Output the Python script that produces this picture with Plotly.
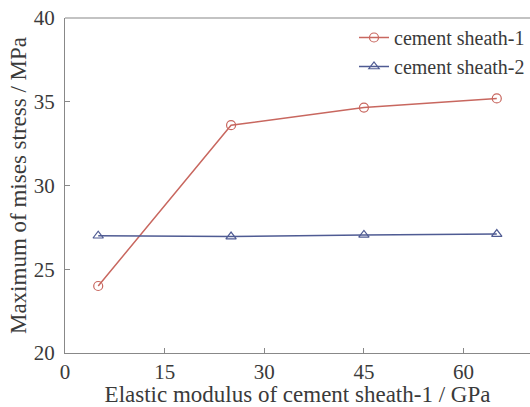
import plotly.graph_objects as go

x_vals = [5, 25, 45, 65]
sheath1 = [24.0, 33.6, 34.65, 35.2]
sheath2 = [27.0, 26.95, 27.05, 27.1]
names = ["cement sheath-1", "cement sheath-2"]

red = "#c8675f"
blue = "#4f5b93"

fig = go.Figure()
fig.add_trace(go.Scatter(x=x_vals, y=sheath1, mode="lines+markers", name=names[0],
                         line=dict(color=red, width=1.5),
                         marker=dict(symbol="circle-open", size=9, color=red, line=dict(width=1.2))))
fig.add_trace(go.Scatter(x=x_vals, y=sheath2, mode="lines+markers", name=names[1],
                         line=dict(color=blue, width=1.5),
                         marker=dict(symbol="triangle-up-open", size=9, color=blue, line=dict(width=1.2))))

font = "Liberation Serif, Times New Roman, serif"
txt = "#3a3a3a"
fig.update_layout(
    width=530, height=407,
    margin=dict(l=65, r=0, t=18, b=54, autoexpand=False),
    paper_bgcolor="white", plot_bgcolor="white",
    font=dict(family=font, color=txt, size=21),
    showlegend=True,
    legend=dict(x=1.0, y=1.0, xanchor="right", yanchor="top",
                font=dict(family=font, size=20, color=txt),
                bgcolor="rgba(0,0,0,0)", tracegroupgap=0),
    xaxis=dict(range=[0, 70], tickvals=[0, 15, 30, 45, 60], ticks="inside", ticklen=5,
               tickcolor="#888888", showline=True, linecolor="#888888", linewidth=1.2,
               showgrid=False, zeroline=False, mirror=False, automargin=False,
               title=dict(text="Elastic modulus of cement sheath-1 / GPa", standoff=0,
                          font=dict(size=23, family=font, color=txt)),
               tickfont=dict(size=21, family=font, color=txt)),
    yaxis=dict(range=[20, 40], tickvals=[20, 25, 30, 35, 40], ticks="inside", ticklen=5,
               tickcolor="#888888", showline=True, linecolor="#888888", linewidth=1.2,
               showgrid=False, zeroline=False, automargin=False, ticklabelstandoff=5,
               title=dict(text="Maximum of mises stress / MPa", standoff=0,
                          font=dict(size=23, family=font, color=txt)),
               tickfont=dict(size=21, family=font, color=txt)),
)
fig.add_shape(type="line", xref="paper", yref="paper", x0=0, x1=1, y0=1, y1=1,
              line=dict(color="#888888", width=1.2))

fig.write_html("out.html")
